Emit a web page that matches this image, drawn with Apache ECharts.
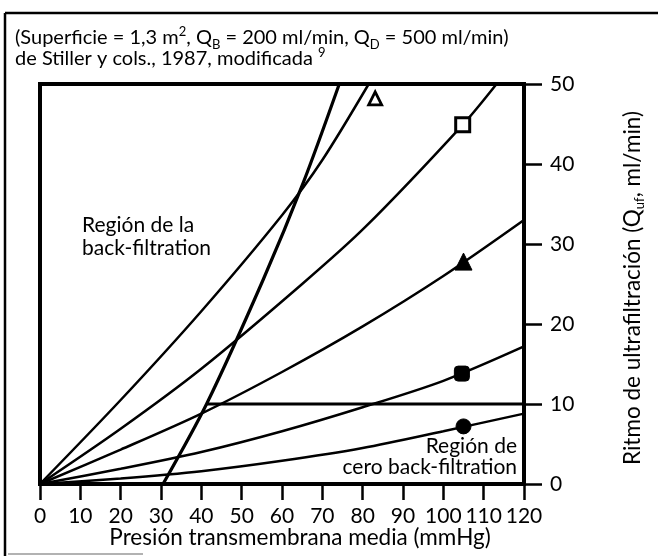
<!DOCTYPE html>
<html>
<head>
<meta charset="utf-8">
<script src="https://cdn.jsdelivr.net/npm/echarts@6/dist/echarts.min.js"></script>
<style>
html,body{margin:0;padding:0;background:#fff;}
#c{width:658px;height:556px;}
</style>
</head>
<body>
<div id="c"></div>
<script>
// ---- data ----
var xTicks = [0, 10, 20, 30, 40, 50, 60, 70, 80, 90, 100, 110, 120];
var yTicks = [0, 10, 20, 30, 40, 50];

var curveA = [[0,0],[20,10.5],[40,21.6],[60,33.6],[70,40.5],[81.5,50]];      // open triangle
var curveB = [[0,0],[20,6.9],[40,14.4],[65,25],[80.6,32.1],[104.8,44.9],[113.2,50]]; // open square
var curveC = [[0,0],[20,4.3],[40,8.8],[60,14],[80,19.7],[100,26],[120,33]];  // filled triangle
var curveD = [[0,0],[20,1.9],[40,4.0],[60,6.6],[80,9.6],[100,12.9],[120,17.2]];   // filled square
var curveE = [[0,0],[20,0.7],[40,1.6],[60,2.9],[80,4.5],[100,6.6],[120,8.8]];     // filled circle
var steepLine = [[30.5,0],[41.3,10],[55.3,25.5],[65.3,37.7],[74.2,50]];
var limitLine = [[41.3,10],[120,10]];

var openTriangle = [[83.1,48.2]];
var openSquare = [[104.8,44.9]];
var filledTriangle = [[105,27.8]];
var filledSquare = [[104.6,13.8]];
var filledCircle = [[105,7.2]];

var FONT = 'Lato';
var chart = echarts.init(document.getElementById('c'), null, {renderer:'canvas'});

function curve(d, w){
  return {type:'line', data:d, showSymbol:false, smooth:0.3,
    lineStyle:{color:'#000', width:w||2.5}, silent:true, z:3};
}
function mark(d, sym, size, fill, bw, rot){
  return {type:'scatter', data:d, symbol:sym, symbolSize:size, symbolRotate:rot||0,
    itemStyle:{color:fill, borderColor:'#000', borderWidth:bw, opacity:1}, z:5, silent:true};
}
function richSet(fs){
  return {
    n:{fontSize:fs, fontFamily:FONT, color:'#000', lineHeight:26},
    sub:{fontSize:13, fontFamily:FONT, color:'#000', lineHeight:13, verticalAlign:'bottom'},
    sup:{fontSize:13, fontFamily:FONT, color:'#000', lineHeight:13, verticalAlign:'top'}
  };
}

chart.setOption({
  animation:false,
  backgroundColor:'#fff',
  grid:{left:40, top:84, width:484, height:400, show:true, borderColor:'#000', borderWidth:4, backgroundColor:'transparent'},
  xAxis:{type:'value', min:0, max:120, interval:10,
    axisLine:{onZero:false, lineStyle:{color:'#000', width:4}},
    axisTick:{length:16, lineStyle:{color:'#000', width:2.5}},
    axisLabel:{color:'#000', fontSize:21, fontFamily:FONT, margin:22,
      formatter:function(v){return xTicks.indexOf(v)>=0 ? String(v) : '';}},
    splitLine:{show:false}},
  yAxis:{type:'value', position:'right', min:0, max:50, interval:10,
    axisLine:{show:true, onZero:false, lineStyle:{color:'#000', width:4}},
    axisTick:{show:true, inside:false, length:18, lineStyle:{color:'#000', width:2.5}},
    axisLabel:{color:'#000', fontSize:21, fontFamily:FONT, margin:26,
      formatter:function(v){return yTicks.indexOf(v)>=0 ? String(v) : '';}},
    splitLine:{show:false}},
  series:[
    curve(curveA), curve(curveB), curve(curveC), curve(curveD), curve(curveE),
    curve(steepLine, 3.2), curve(limitLine, 3.2),
    mark(openTriangle, 'triangle', 13, '#fff', 2.8),
    mark(openSquare, 'rect', 14, '#fff', 3),
    mark(filledTriangle, 'triangle', 17, '#000', 1, 0),
    mark(filledSquare, 'roundRect', 15, '#000', 1),
    mark(filledCircle, 'circle', 15, '#000', 1)
  ],
  graphic:[
    {type:'line', shape:{x1:5, y1:13, x2:658, y2:13}, style:{stroke:'#000', lineWidth:2.5}},
    {type:'line', shape:{x1:5, y1:13, x2:5, y2:556}, style:{stroke:'#000', lineWidth:2.5}},
    {type:'line', shape:{x1:8, y1:554, x2:143, y2:554}, style:{stroke:'#999', lineWidth:1.5}},
    {type:'text', x:15, y:25, style:{
      text:'{n|(Superficie = 1,3 m}{sup|2}{n|, Q}{sub|B}{n| = 200 ml/min, Q}{sub|D}{n| = 500 ml/min)}',
      rich:richSet(20)}},
    {type:'text', x:15, y:46, style:{
      text:'{n|de Stiller y cols., 1987, modificada }{sup|9}', rich:richSet(20)}},
    {type:'text', x:82, y:214, style:{
      text:'Región de la\nback-filtration', fontSize:21, fontFamily:FONT, fill:'#000', lineHeight:23}},
    {type:'text', x:517, y:436, style:{
      text:'Región de\ncero back-filtration', fontSize:21, fontFamily:FONT, fill:'#000', lineHeight:21, align:'right'}},
    {type:'text', x:300, y:526, style:{
      text:'Presión transmembrana media (mmHg)', fontSize:22.5, fontFamily:FONT, fill:'#000', align:'center'}},
    {type:'text', x:633, y:288, rotation:Math.PI/2, style:{
      text:'{n|Ritmo de ultrafiltración (Q}{sub|uf}{n|, ml/min)}', rich:richSet(22.5), align:'center', verticalAlign:'middle'}}
  ]
});
</script>
</body>
</html>
